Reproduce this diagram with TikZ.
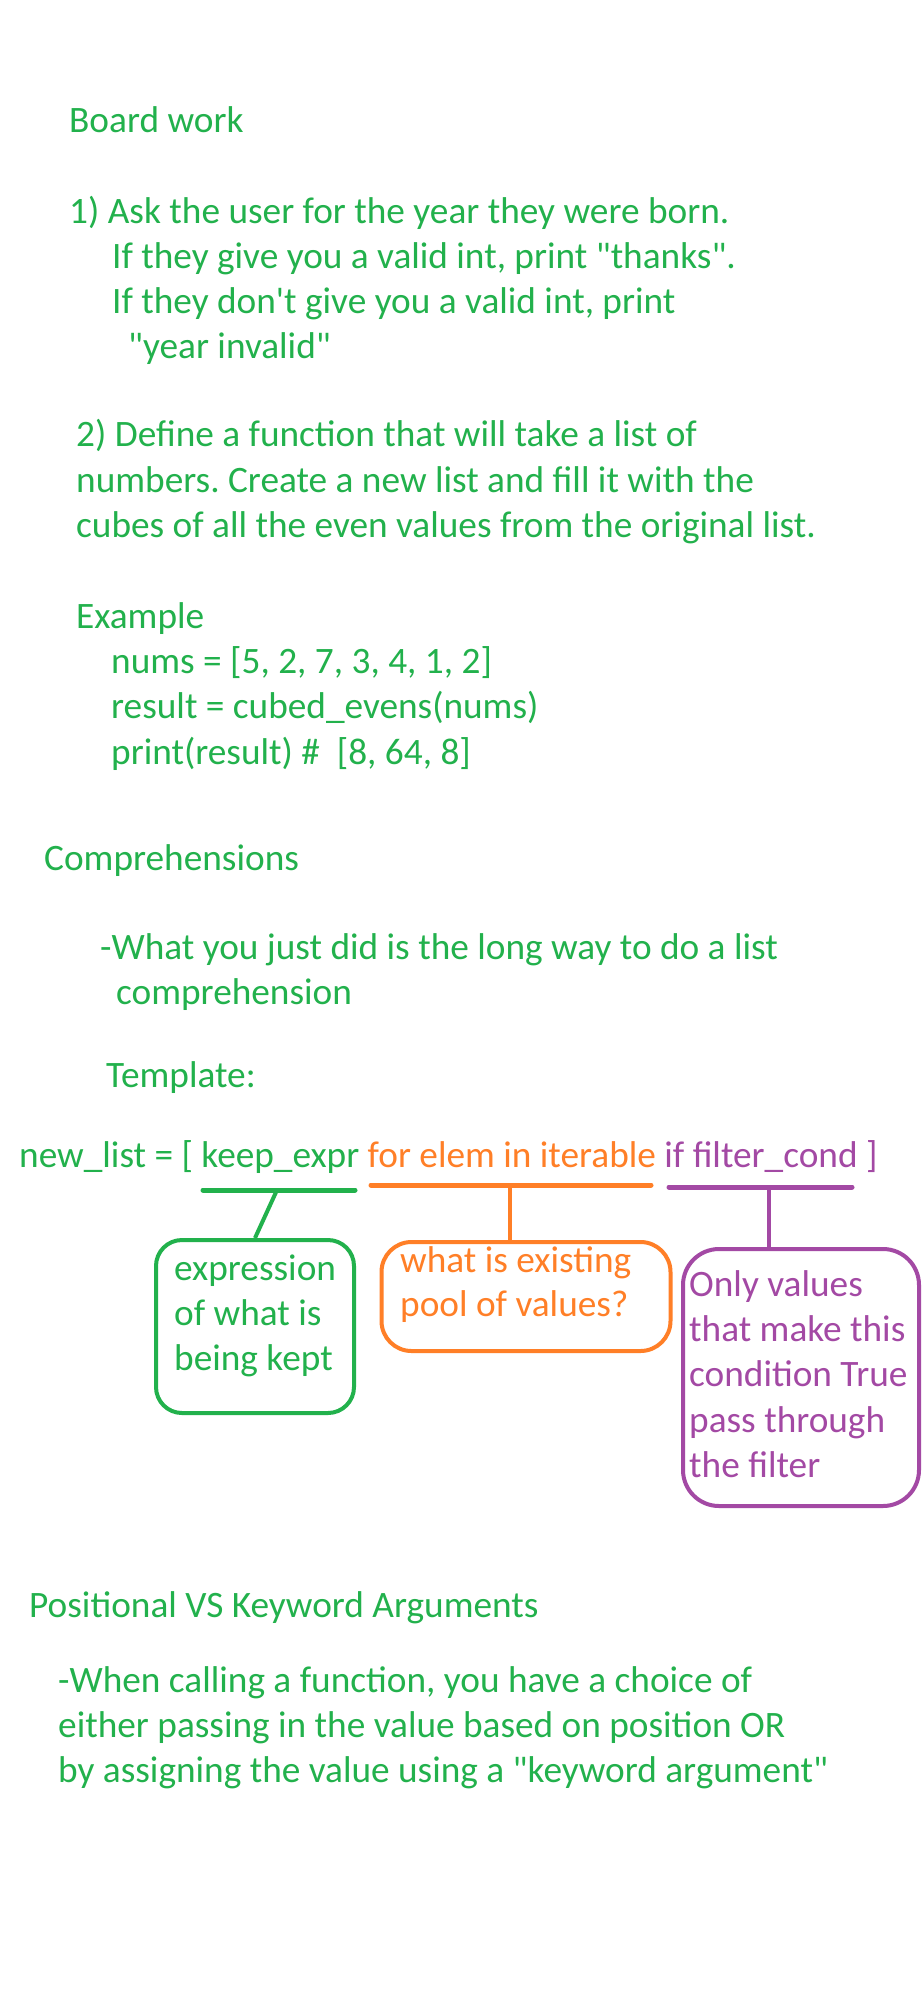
\documentclass[tikz,border=0pt]{standalone}
\usepackage{fontspec}
\setmainfont{Carlito}[Ligatures=TeXOff]
\usetikzlibrary{positioning, calc}
\definecolor{mgreen}{RGB}{34,177,76}
\definecolor{morange}{RGB}{255,127,39}
\definecolor{mpurple}{RGB}{163,73,164}
\frenchspacing

\begin{document}
\begin{tikzpicture}[
      x=1pt, y=-1pt,
      txt/.style={anchor=base west, inner sep=0, text=mgreen,
                  font=\fontsize{37.3}{45}\selectfont},
      otxt/.style={txt, text=morange},
      ptxt/.style={txt, text=mpurple},
      bubble/.style={draw, line width=4pt, inner sep=0},
      uline/.style={line width=5pt, line cap=round},
    ]

    \fill[white] (0,0) rectangle (923,1991);
    \useasboundingbox (0,0) rectangle (923,1991);

    % ---- board work ----
    \node[txt] (bw) at (69,132) {Board work};

    \node[txt] (q1a) at (69,223) {1) Ask the user for the year they were born.};
    \node[txt] (q1b) at (112,268) {If they give you a valid int, print "thanks".};
    \node[txt] (q1c) at (112,313) {If they don't give you a valid int, print};
    \node[txt] (q1d) at (128,358) {"year invalid"};

    \node[txt] (q2a) at (76,446) {2) Define a function that will take a list of};
    \node[txt] (q2b) at (76,492) {numbers. Create a new list and fill it with the};
    \node[txt] (q2c) at (76,537) {cubes of all the even values from the original list.};

    % Example
    \node[txt] (ex) at (76,628) {Example};
    \node[txt] (ex1) at (111,673) {nums = [5, 2, 7, 3, 4, 1, 2]};
    \node[txt] (ex2) at (111,718) {result = cubed\_evens(nums)};
    \node[txt] (ex3) at (111,764) {print(result) \#\ \ [8, 64, 8]};

    % ---- comprehensions ----
    \node[txt] (comp) at (44,870) {Comprehensions};
    \node[txt] (cp1) at (100,959) {-What you just did is the long way to do a list};
    \node[txt] (cp2) at (116,1004) {comprehension};
    \node[txt] (tmpl) at (106,1087) {Template:};

    \node[txt] (expr) at (19,1167) {new\_list = [ keep\_expr
      \textcolor{morange}{for elem in iterable}
      \textcolor{mpurple}{if filter\_cond ]}};

    % Underlines
    \coordinate (gmid) at (277,1190);
    \coordinate (omid) at (510,1185);
    \coordinate (pmid) at (769,1187);
    \draw[uline, mgreen] (203,1190) -- (355,1190);
    \draw[uline, morange] (371,1185) -- (651,1185);
    \draw[uline, mpurple] (669,1187) -- (852,1187);

    % Boxes
    \node[bubble, mgreen, rounded corners=26pt,
          minimum width=198, minimum height=173] (gbox) at (255,1326.5) {};
    \node[bubble, morange, rounded corners=30pt,
          minimum width=289, minimum height=109] (obox) at (526,1296.5) {};
    \node[bubble, mpurple, rounded corners=36pt,
          minimum width=236, minimum height=257] (pbox) at (801,1377.5) {};

    \foreach \t [count=\i] in {expression, of what is, being kept}
      \node[txt] (g\i) at (174,1235+45*\i) {\t};
    \foreach \t [count=\i] in {what is existing, pool of values?}
      \node[otxt] (o\i) at (400,1228+44*\i) {\t};
    \foreach \t [count=\i] in {Only values, that make this, condition True,
                               pass through, the filter}
      \node[ptxt] (p\i) at (689,1251+45.25*\i) {\t};

    % Connectors
    \draw[line width=4pt, mgreen] (gmid) -- (gbox.north);
    \draw[line width=4pt, morange] (omid) -- (omid |- obox.north);
    \draw[line width=4pt, mpurple] (pmid) -- (pmid |- pbox.north);

    % ---- positional vs keyword ----
    \node[txt] (pos) at (29,1617) {Positional VS Keyword Arguments};
    \node[txt] (ps1) at (58,1692) {-When calling a function, you have a choice of};
    \node[txt] (ps2) at (58,1737) {either passing in the value based on position OR};
    \node[txt] (ps3) at (58,1782) {by assigning the value using a "keyword argument"};

  \end{tikzpicture}
\end{document}
